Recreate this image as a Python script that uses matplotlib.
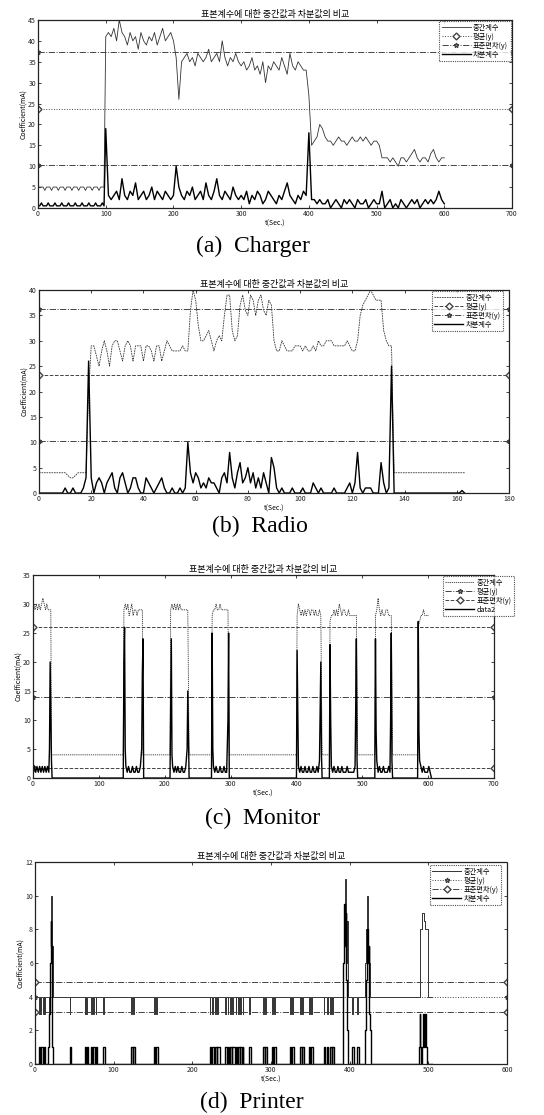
import numpy as np
import matplotlib
matplotlib.use("Agg")
from matplotlib import pyplot as plt

plt.rcParams['font.family'] = ['Noto Sans CJK KR', 'DejaVu Sans']

TITLE = "표본계수에 대한 중간값과 차분값의 비교"
LBL_MED = "중간계수"
LBL_MEAN = "평균(y)"
LBL_STD = "표준편차(y)"
LBL_DIF = "차분계수"

# ---------------- (a) Charger ----------------
a_t_quiet = np.arange(0, 100, 2.5)
a_quiet_med = [5, 5, 5, 5,
               4.2, 5, 5, 5, 4.2, 5, 5, 5, 4.2, 5, 5, 5, 4.2, 5, 5, 5, 4.2, 5, 5, 5,
               4.2, 5, 5, 5, 4.2, 5, 5, 5, 4.2, 5, 5, 5, 4.2, 5, 5, 5]
a_quiet_dif = [0.5, 0.5, 1.2, 0.5, 0.5, 0.5, 1.2, 0.5, 0.5, 0.5, 1.2, 0.5, 0.5, 0.5, 1.2, 0.5,
               0.5, 0.5, 1.2, 0.5, 0.5, 0.5, 1.2, 0.5, 0.5, 0.5, 1.2, 0.5, 0.5, 0.5, 1.2, 0.5,
               0.5, 0.5, 1.2, 0.5, 0.5, 0.5, 1.2, 0.5]
a_t_active = np.arange(100, 601, 4)
a_active_med = [41,
                42, 41, 43, 40, 45, 42, 41, 39, 42, 40, 41, 38, 42, 40, 39, 41, 40, 42, 39, 41, 43, 40, 41, 42,
                40, 36, 26, 35,
                36, 37, 35, 36, 34, 37, 36, 35, 36, 38, 35, 36, 37, 35, 40, 36, 34, 36, 35, 37, 35,
                34, 35, 33, 34, 36, 33, 34, 32, 35, 30, 34, 33, 35, 34, 33, 36, 34, 32, 37, 34, 33, 35, 34, 33, 33,
                27, 15, 16, 17, 20, 19, 17,
                16, 16, 15, 16, 17, 16, 16, 15, 16, 17, 16, 16, 17, 16, 17, 16, 15, 16, 16, 15,
                12,
                12, 12, 11, 12, 11, 10, 12, 12, 11, 12, 13, 14, 12, 11, 12, 12, 11, 13, 14, 12, 11, 12, 12]
a_active_dif = [19, 3,
                2, 3, 4, 2, 7, 3, 2, 4, 3, 6, 2, 3, 4, 2, 3, 5, 2, 4, 3, 2, 4, 3, 2,
                3, 10, 5,
                3, 2, 4, 3, 5, 2, 3, 4, 2, 6, 3, 2, 4, 7, 3, 2, 4, 3, 2, 5, 3, 2,
                3, 2, 4, 1, 3, 2, 4, 3, 1, 2, 4, 3, 2, 1, 3, 2, 4, 6, 3, 2, 1, 3, 2, 4, 3,
                18, 2,
                2, 1, 2, 1, 1, 2, 0, 1, 2, 1, 0, 2, 1, 2, 1, 0, 2, 1, 1, 2, 0, 1, 2, 1, 1,
                4,
                0, 1, 2, 0, 1, 0, 2, 1, 0, 1, 2, 1, 2, 0, 1, 2, 1, 2, 1, 2, 4, 2, 1]
a_mean = 23.8
a_std = [37.3, 10.3]
a_xticks = [0, 100, 200, 300, 400, 500, 600, 700]
a_yticks = [0, 5, 10, 15, 20, 25, 30, 35, 40, 45]

# ---------------- (b) Radio ----------------
b_t = np.arange(0, 164)
b_med = [4, 4, 4, 4, 4, 4, 4, 4, 4, 4,
         4, 3.5, 3, 3, 3.5, 4, 4, 4, 4, 20,
         29, 29, 27, 25, 28, 30, 28, 25, 29, 30,
         30, 28, 26, 29, 30, 29, 26, 29, 29, 29,
         26, 29, 29, 28, 26, 29, 29, 26, 28, 30,
         29, 28, 28, 28, 28, 29, 28, 28, 36, 40,
         38, 33, 30, 30, 31, 32, 30, 28, 30, 31,
         30, 35, 39, 39, 32, 30, 31, 37, 39, 36,
         35, 39, 38, 35, 38, 39, 36, 35, 38, 37,
         30, 28, 28, 30, 29, 28, 28, 28, 29, 29,
         29, 28, 29, 28, 28, 29, 28, 30, 29, 29,
         30, 30, 30, 29, 29, 29, 29, 29, 30, 29,
         28, 28, 30, 35, 37, 38, 39, 40, 39, 38,
         38, 38, 32, 30, 29, 29, 4, 4, 4, 4,
         4, 4, 4, 4, 4, 4, 4, 4, 4, 4,
         4, 4, 4, 4, 4, 4, 4, 4, 4, 4,
         4, 4, 4, 4]
b_dif = [0, 0, 0, 0, 0, 0, 0, 0, 0, 0,
         1, 0, 0, 1, 0, 0, 0, 1, 3, 26,
         3, 0, 2, 3, 2, 0, 2, 3, 4, 1,
         0, 3, 4, 2, 0, 1, 3, 3, 1, 0,
         0, 3, 2, 1, 0, 1, 2, 3, 1, 0,
         0, 1, 0, 0, 1, 0, 1, 10, 4, 2,
         4, 3, 1, 2, 1, 3, 2, 2, 1, 0,
         3, 4, 2, 8, 3, 1, 4, 6, 2, 3,
         5, 2, 4, 1, 3, 1, 4, 2, 0, 7,
         5, 1, 0, 1, 0, 0, 0, 1, 0, 0,
         0, 1, 0, 0, 0, 2, 1, 0, 1, 0,
         0, 0, 0, 1, 0, 0, 0, 0, 1, 2,
         0, 2, 8, 1, 0, 1, 1, 1, 0, 0,
         0, 6, 2, 0, 1, 25, 0, 0, 0, 0,
         0, 0, 0, 0, 0, 0, 0, 0, 0, 0,
         0, 0, 0, 0, 0, 0, 0, 0, 0, 0,
         0, 0, 0.5, 0]
b_mean = 23.2
b_std = [36.2, 10.2]
b_xticks = [0, 20, 40, 60, 80, 100, 120, 140, 160, 180]
b_yticks = [0, 5, 10, 15, 20, 25, 30, 35, 40]

# ---------------- (c) Monitor ----------------
c_med = [(0, 29), (1, 30), (3, 29), (5, 30), (7, 29), (9, 30), (11, 29), (13, 30), (15, 31), (17, 30),
         (19, 29), (21, 30), (23, 29), (25, 29), (27, 29), (28, 4),
         (137, 4), (138, 29), (140, 30), (142, 29), (144, 30), (146, 28), (148, 29), (150, 30), (152, 28),
         (154, 29), (156, 29), (158, 28), (160, 29), (162, 29), (164, 29), (166, 29), (167, 4),
         (208, 4), (209, 29), (211, 30), (213, 29), (215, 30), (217, 29), (219, 30), (221, 29), (223, 30),
         (225, 29), (227, 29), (229, 29), (231, 29), (233, 29), (235, 29), (237, 4),
         (271, 4), (272, 28), (274, 29), (276, 29), (278, 30), (280, 29), (282, 29), (284, 30), (286, 29),
         (288, 29), (290, 29), (292, 29), (294, 29), (296, 29), (298, 4),
         (400, 4), (401, 28), (403, 30), (405, 29), (407, 28), (409, 29), (411, 28), (413, 29), (415, 28),
         (417, 29), (419, 29), (421, 28), (423, 29), (425, 29), (427, 28), (429, 29), (431, 28), (433, 28),
         (435, 29), (437, 28), (439, 4),
         (450, 4), (451, 27), (453, 28), (455, 28), (457, 29), (459, 28), (461, 29), (463, 28), (465, 30),
         (467, 29), (469, 28), (471, 29), (473, 29), (475, 28), (477, 28), (479, 29), (481, 28), (483, 28),
         (485, 28), (487, 28), (489, 28), (491, 28), (493, 4),
         (519, 4), (520, 28), (522, 29), (524, 31), (526, 29), (528, 28), (530, 29), (532, 28), (534, 28),
         (536, 29), (538, 29), (540, 28), (542, 28), (544, 28), (546, 4),
         (584, 4), (585, 26), (587, 27), (589, 28), (591, 28), (593, 29), (595, 28), (597, 28), (599, 28),
         (601, 28)]
c_dif = [(0, 1), (2, 2), (4, 1), (6, 2), (8, 1), (10, 2), (12, 1), (14, 2), (16, 1), (18, 2), (20, 1),
         (22, 2), (24, 1), (25, 5), (26, 20), (27, 12), (28, 3), (29, 0),
         (137, 0), (138, 20), (139, 26), (140, 5), (141, 2), (143, 1), (145, 2), (147, 1), (149, 1),
         (151, 2), (153, 1), (155, 1), (157, 2), (159, 1), (161, 1), (163, 2), (165, 5), (166, 18),
         (167, 24), (168, 0),
         (208, 0), (209, 12), (210, 24), (211, 4), (212, 2), (214, 1), (216, 2), (218, 1), (220, 2),
         (222, 1), (224, 1), (226, 2), (228, 1), (230, 1), (232, 2), (234, 5), (235, 15), (236, 8), (237, 0),
         (271, 0), (272, 25), (273, 5), (274, 2), (276, 1), (278, 2), (280, 1), (282, 1), (284, 2),
         (286, 1), (288, 1), (290, 2), (292, 1), (294, 1), (296, 10), (297, 25), (298, 0),
         (400, 0), (401, 22), (402, 12), (403, 2), (405, 1), (407, 2), (409, 1), (411, 1), (413, 2),
         (415, 1), (417, 1), (419, 2), (421, 1), (423, 1), (425, 2), (427, 1), (429, 1), (431, 2),
         (433, 1), (435, 3), (436, 12), (437, 20), (438, 4), (439, 0),
         (450, 0), (451, 23), (452, 10), (453, 2), (455, 1), (457, 2), (459, 1), (461, 1), (463, 2),
         (465, 1), (467, 1), (469, 2), (471, 1), (473, 1), (475, 1), (477, 2), (479, 1), (481, 1),
         (483, 1), (485, 1), (487, 1), (489, 2), (490, 12), (491, 24), (492, 3), (493, 0),
         (519, 0), (520, 24), (521, 8), (522, 3), (524, 1), (526, 2), (528, 1), (530, 1), (532, 2),
         (534, 1), (536, 1), (538, 1), (540, 2), (542, 1), (543, 10), (544, 25), (545, 3), (546, 0),
         (584, 0), (585, 27), (586, 8), (587, 3), (589, 2), (591, 1), (593, 2), (595, 1), (597, 1),
         (599, 1), (601, 2), (603, 1), (605, 0)]
c_mean = 14
c_std = [26, 1.8]
c_xticks = [0, 100, 200, 300, 400, 500, 600, 700]
c_yticks = [0, 5, 10, 15, 20, 25, 30, 35]

# ---------------- (d) Printer (step breakpoints) ----------------
d_med = [(0, 4), (5, 3), (6, 4), (7, 3), (8, 4), (10, 3), (11, 4), (12, 3), (13, 4), (18, 3), (19, 6),
         (20, 8.5), (21, 10), (22, 7), (23, 4), (44, 3), (45, 4), (63, 3), (64, 4), (65, 3), (66, 4),
         (71, 3), (72, 4), (74, 3), (75, 4), (77, 3), (78, 4), (87, 3), (88, 4), (122, 3), (123, 4),
         (125, 3), (126, 4), (151, 3), (152, 4), (154, 3), (155, 4), (222, 3), (223, 4), (225, 3),
         (226, 4), (229, 3), (230, 4), (232, 3), (233, 4), (242, 3), (243, 4), (245, 3), (246, 4),
         (248, 3), (249, 4), (251, 3), (252, 4), (255, 3), (256, 4), (258, 3), (259, 4), (261, 3),
         (262, 4), (264, 3), (265, 4), (272, 3), (273, 4), (290, 3), (291, 4), (293, 3), (294, 4),
         (301, 3), (302, 4), (304, 3), (305, 4), (324, 3), (325, 4), (327, 3), (328, 4), (337, 3),
         (338, 4), (340, 3), (341, 4), (348, 3), (349, 4), (351, 3), (352, 4), (367, 3), (368, 4),
         (371, 3), (372, 4), (375, 3), (376, 4), (378, 3), (379, 4), (391, 6), (393, 9), (394, 11),
         (395, 9), (396, 6), (397, 8.5), (398, 4), (403, 3), (404, 4), (410, 3), (411, 4), (420, 6),
         (421, 8), (422, 10), (423, 7), (424, 6), (426, 4), (490, 8), (492, 9), (494, 8.5), (496, 8),
         (499, 4), (505, 4)]
d_dif = [(0, 0), (5, 1), (7, 0), (8, 1), (10, 0), (11, 1), (13, 0), (17, 1), (18, 3), (19, 6),
         (20, 8.5), (21, 7), (22, 1), (23, 0), (44, 1), (46, 0), (63, 1), (65, 0), (66, 1), (67, 0),
         (71, 1), (73, 0), (74, 1), (76, 0), (77, 1), (79, 0), (87, 1), (89, 0), (122, 1), (124, 0),
         (125, 1), (127, 0), (151, 1), (153, 0), (154, 1), (156, 0), (222, 1), (224, 0), (225, 1),
         (227, 0), (229, 1), (231, 0), (232, 1), (235, 0), (242, 1), (244, 0), (245, 1), (247, 0),
         (248, 1), (250, 0), (251, 1), (254, 0), (255, 1), (257, 0), (258, 1), (260, 0), (261, 1),
         (263, 0), (264, 1), (265, 0), (272, 1), (274, 0), (290, 1), (292, 0), (293, 1), (295, 0),
         (301, 1), (303, 0), (304, 1), (307, 0), (324, 1), (326, 0), (327, 1), (329, 0), (337, 1),
         (339, 0), (340, 1), (342, 0), (348, 1), (350, 0), (351, 1), (353, 0), (367, 1), (369, 0),
         (371, 1), (373, 0), (375, 1), (377, 0), (378, 1), (380, 0), (391, 2), (392, 6), (393, 9.5),
         (394, 7), (395, 9), (396, 5), (397, 2), (398, 0), (403, 1), (405, 0), (410, 1), (412, 0),
         (420, 2), (421, 5), (422, 8), (423, 6), (424, 7), (425, 3), (426, 2), (427, 0), (488, 1),
         (489, 3), (490, 1), (491, 0), (492, 1), (493, 3), (494, 2), (495, 1), (496, 3), (497, 1),
         (498, 0), (505, 0)]
d_mean = 4
d_std = [4.9, 3.1]
d_xticks = [0, 100, 200, 300, 400, 500, 600]
d_yticks = [0, 2, 4, 6, 8, 10, 12]


def frame(ax, xticks, yticks):
    ax.set_xlim(xticks[0], xticks[-1])
    ax.set_ylim(yticks[0], yticks[-1])
    ax.set_xticks(xticks)
    ax.set_yticks(yticks)
    ax.tick_params(direction='in', top=True, right=True, length=2.5, width=0.6,
                   labelsize=5, pad=1.5, colors='#222222')
    for s in ax.spines.values():
        s.set_linestyle((0, (1, 1)))
        s.set_linewidth(0.9)
        s.set_color('#222222')
    ax.set_xlabel('t(Sec.)', fontsize=5, labelpad=1)
    ax.set_ylabel('Coefficient(mA)', fontsize=5, labelpad=1)
    ax.set_title(TITLE, fontsize=6.5, pad=2)


def hlines(ax, xmax, mean, std, mean_style, std_style):
    ax.plot([0, xmax], [mean, mean], color='#444444', lw=0.7, ms=3.5, mfc='white',
            label=LBL_MEAN, **mean_style)
    ax.plot([0, xmax], [std[0], std[0]], color='#444444', lw=0.7, ms=3.5, mfc='white',
            label=LBL_STD, **std_style)
    ax.plot([0, xmax], [std[1], std[1]], color='#444444', lw=0.7, ms=3.5, mfc='white',
            **std_style)


def legend(ax, anchor, dif_label):
    h, l = ax.get_legend_handles_labels()
    order = [l.index(LBL_MED), l.index(LBL_MEAN), l.index(LBL_STD), l.index(dif_label)]
    lg = ax.legend([h[i] for i in order], [l[i] for i in order], loc='upper right',
                   bbox_to_anchor=anchor, fontsize=5.2, fancybox=False, edgecolor='#222222',
                   borderpad=0.35, handlelength=4, labelspacing=0.12, handletextpad=0.3,
                   borderaxespad=0.2)
    lg.get_frame().set_linestyle((0, (1, 1)))
    lg.get_frame().set_linewidth(0.8)


fig = plt.figure(figsize=(5.44, 11.15), dpi=100)

# (a)
ax = fig.add_axes([0.0699, 0.8135, 0.8713, 0.1686])
a_t = np.concatenate([a_t_quiet, a_t_active])
ax.plot(a_t, a_quiet_med + a_active_med, color='#333333', lw=0.6, label=LBL_MED)
hlines(ax, 700, a_mean, a_std, dict(ls=':', marker='D'), dict(ls='-.', marker='*'))
ax.plot(a_t, a_quiet_dif + a_active_dif, color='black', lw=1.0, label=LBL_DIF)
frame(ax, a_xticks, a_yticks)
legend(ax, (1.0, 1.0), LBL_DIF)
fig.text(0.465, 1 - 246 / 1115, '(a)  Charger', family='Liberation Serif', fontsize=17,
         ha='center', va='center')

# (b)
ax = fig.add_axes([0.0717, 0.5578, 0.864, 0.1821])
ax.plot(b_t, b_med, color='#333333', lw=0.6, ls=(0, (2, 1)), label=LBL_MED)
hlines(ax, 180, b_mean, b_std, dict(ls='--', marker='D'), dict(ls='-.', marker='*'))
ax.plot(b_t, b_dif, color='black', lw=1.0, label=LBL_DIF)
frame(ax, b_xticks, b_yticks)
legend(ax, (0.99, 1.0), LBL_DIF)
fig.text(0.478, 1 - 526 / 1115, '(b)  Radio', family='Liberation Serif', fontsize=17,
         ha='center', va='center')

# (c)
ax = fig.add_axes([0.0607, 0.3022, 0.8474, 0.1821])
ct, cv = zip(*c_med)
ax.plot(ct, cv, color='#333333', lw=0.6, ls=(0, (1.5, 1)), label=LBL_MED)
hlines(ax, 700, c_mean, c_std, dict(ls='-.', marker='*'), dict(ls='--', marker='D'))
ct, cv = zip(*c_dif)
ax.plot(ct, cv, color='black', lw=1.0, label='data2')
frame(ax, c_xticks, c_yticks)
legend(ax, (1.046, 1.0), 'data2')
fig.text(0.482, 1 - 818 / 1115, '(c)  Monitor', family='Liberation Serif', fontsize=17,
         ha='center', va='center')

# (d)
ax = fig.add_axes([0.0643, 0.0457, 0.8676, 0.1812])
dt, dv = zip(*d_med)
ax.plot(dt, dv, color='#333333', lw=0.7, drawstyle='steps-post', label=LBL_MED)
hlines(ax, 600, d_mean, d_std, dict(ls=':', marker='*'), dict(ls='-.', marker='D'))
dt, dv = zip(*d_dif)
ax.plot(dt, dv, color='black', lw=1.0, drawstyle='steps-post', label=LBL_DIF)
frame(ax, d_xticks, d_yticks)
legend(ax, (0.99, 0.99), LBL_DIF)
fig.text(0.463, 1 - 1102 / 1115, '(d)  Printer', family='Liberation Serif', fontsize=17,
         ha='center', va='center')

fig.savefig('out.png', dpi=100, facecolor='white')
